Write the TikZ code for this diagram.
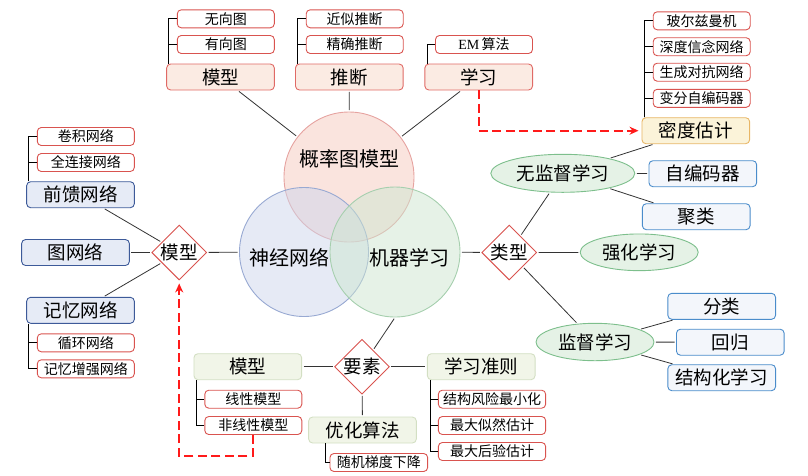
\documentclass[tikz,border=0pt]{standalone}
\usepackage{fontspec}
\usetikzlibrary{shapes.geometric,arrows.meta}
\newfontfamily\cjk{Noto Sans CJK SC}
\newfontfamily\lat{Liberation Serif}
\definecolor{leafred}{HTML}{D9534F}
\definecolor{pinkfill}{HTML}{FBEBE3}
\definecolor{pinkdraw}{HTML}{E06A66}
\definecolor{nnfill}{HTML}{E6EBF6}
\definecolor{nndraw}{HTML}{3D5A99}
\definecolor{mlfill}{HTML}{F3F6FB}
\definecolor{mldraw}{HTML}{4A8CCB}
\definecolor{denfill}{HTML}{FBF3D9}
\definecolor{dendraw}{HTML}{E8B666}
\definecolor{elfill}{HTML}{F1F5E8}
\definecolor{eldraw}{HTML}{D3DFC3}
\definecolor{ellfill}{HTML}{E5F2E6}
\definecolor{elldraw}{HTML}{7DBF8C}
\definecolor{cred}{HTML}{F5C9BE}
\definecolor{credd}{HTML}{E6A3A0}
\definecolor{cblue}{HTML}{CDD5EC}
\definecolor{cblued}{HTML}{98A9D2}
\definecolor{cgreen}{HTML}{CDE6D0}
\definecolor{cgreend}{HTML}{A6CFAE}
\definecolor{dashred}{HTML}{FF1A1A}
\definecolor{conn}{HTML}{333333}
\tikzset{
  smallfont/.style={font=\cjk\fontsize{14}{16}\selectfont},
  bigfont/.style={font=\cjk\fontsize{18.5}{20}\selectfont},
  leaf/.style={smallfont, draw=leafred, fill=white, rounded corners=4pt, line width=0.9pt,
    minimum width=97pt, minimum height=18pt, inner sep=0pt},
  bigbox/.style={bigfont, rounded corners=4pt, line width=0.9pt,
    minimum width=107.7pt, minimum height=26pt, inner sep=0pt},
  pgmbox/.style={bigbox, fill=pinkfill, draw=pinkdraw},
  nnbox/.style={bigbox, fill=nnfill, draw=nndraw},
  mlbox/.style={bigbox, fill=mlfill, draw=mldraw},
  denbox/.style={bigbox, fill=denfill, draw=dendraw},
  elbox/.style={bigbox, fill=elfill, draw=eldraw},
  oval/.style={ellipse, bigfont, fill=ellfill, draw=elldraw, line width=0.9pt, inner sep=0pt},
  dia/.style={diamond, bigfont, draw=leafred, fill=white, line width=0.9pt,
    minimum width=55pt, minimum height=55pt, inner sep=0pt},
  venn/.style={circle, minimum size=130pt, inner sep=0pt, line width=0.9pt, fill opacity=0.5},
  vennlabel/.style={font=\cjk\fontsize{20}{22}\selectfont, inner sep=0pt},
  link/.style={draw=conn, line width=0.8pt, shorten <=1.5pt, shorten >=1.5pt},
  brace/.style={draw=black, line width=0.8pt},
  dasharrow/.style={draw=dashred, line width=2.2pt, dash pattern=on 9pt off 4.5pt,
    -{Stealth[length=9pt,width=8pt]}, shorten >=3pt}
}
\begin{document}
\begin{tikzpicture}[x=1pt,y=-1pt]
\useasboundingbox (0,0) rectangle (808,475);
% Venn circles
\node[venn, fill=cred, draw=credd, draw opacity=1] (pgm) at (349,177) {};
\node[venn, fill=cblue, draw=cblued, draw opacity=1, minimum size=129pt] (nn) at (304,252) {};
\node[venn, fill=cgreen, draw=cgreend, draw opacity=1] (ml) at (395,252) {};
\node[vennlabel] (pgmlab) at (349,159) {概率图模型};
\node[vennlabel] (nnlab) at (289,258) {神经网络};
\node[vennlabel] (mllab) at (409.5,258) {机器学习};

% Top
\node[pgmbox] (tmodel) at (220.5,77) {模型};
\node[pgmbox] (tinfer) at (349.3,77) {推断};
\node[pgmbox] (tlearn) at (478.7,77) {学习};
\node[leaf] (wuxiang) at (225.8,18.8) {无向图};
\node[leaf] (youxiang) at (225.8,44.5) {有向图};
\node[leaf] (jinsi) at (354.7,18.8) {近似推断};
\node[leaf] (jingque) at (354.7,44.5) {精确推断};
\node[leaf] (em) at (484,44.5) {{\lat EM}\,算法};

% Right
\node[denbox] (midu) at (695.8,130.7) {密度估计};
\node[leaf] (boer) at (701.7,20.8) {玻尔兹曼机};
\node[leaf] (shendu) at (701.7,46.7) {深度信念网络};
\node[leaf] (shengcheng) at (701.7,72.2) {生成对抗网络};
\node[leaf] (bianfen) at (701.7,98.3) {变分自编码器};
\node[mlbox] (zibian) at (702.8,173.7) {自编码器};
\node[mlbox] (julei) at (696.2,216.7) {聚类};
\node[oval, minimum width=144pt, minimum height=38pt] (wujiandu) at (562.8,173.3) {无监督学习};
\node[dia] (leixing) at (509.2,252.5) {\makebox[20pt]{类型}};
\node[oval, minimum width=118pt, minimum height=36.7pt] (qianghua) at (639.2,252.3) {强化学习};
\node[oval, minimum width=118pt, minimum height=37.4pt] (jiandu) at (595,342) {监督学习};
\node[mlbox] (fenlei) at (721.7,306.3) {分类};
\node[mlbox] (huigui) at (730.3,342.2) {回归};
\node[mlbox] (jiegou) at (721.7,377.7) {结构化学习};

% Left
\node[dia] (moxing) at (179.2,252.5) {\makebox[20pt]{模型}};
\node[nnbox] (qiankui) at (80.5,194.7) {前馈网络};
\node[nnbox] (tuwang) at (75.5,252.5) {图网络};
\node[nnbox] (jiyi) at (80.5,310.3) {记忆网络};
\node[leaf] (juanji) at (85.8,136.5) {卷积网络};
\node[leaf] (quanlian) at (85.8,162.5) {全连接网络};
\node[leaf] (xunhuan) at (85.8,342.8) {循环网络};
\node[leaf] (jiyizq) at (85.8,368.8) {记忆增强网络};

% Bottom
\node[dia] (yaosu) at (362,366.7) {\makebox[20pt]{要素}};
\node[elbox] (emodel) at (247.8,366.7) {模型};
\node[elbox] (ecrit) at (481.2,366.7) {学习准则};
\node[elbox] (eopt) at (362.5,430) {优化算法};
\node[leaf] (xianxing) at (253.3,399.2) {线性模型};
\node[leaf] (feixian) at (253.3,425.5) {非线性模型};
\node[leaf, minimum width=97.7pt] (suiji) at (378.8,462.5) {随机梯度下降};
\node[leaf, minimum width=107.3pt] (jgfx) at (492,399.2) {结构风险最小化};
\node[leaf, minimum width=107.3pt] (zdsr) at (492,425.5) {最大似然估计};
\node[leaf, minimum width=107.3pt] (zdhy) at (492,451.5) {最大后验估计};

% Connectors
\draw[link] (tmodel) -- (pgm);
\draw[link] (tinfer) -- (pgm);
\draw[link] (tlearn) -- (pgm);
\draw[link] (moxing) -- (nn);
\draw[link] (qiankui) -- (moxing);
\draw[link] (tuwang) -- (moxing);
\draw[link] (jiyi) -- (moxing);
\draw[link] (ml) -- (leixing);
\draw[link] (leixing) -- (wujiandu);
\draw[link] (leixing) -- (qianghua);
\draw[link] (leixing) -- (jiandu);
\draw[link] (wujiandu) -- (midu);
\draw[link] (wujiandu) -- (zibian);
\draw[link] (wujiandu) -- (julei);
\draw[link] (jiandu) -- (fenlei);
\draw[link] (jiandu) -- (huigui);
\draw[link] (jiandu) -- (jiegou);
\draw[link] (yaosu) -- (ml.south);
\draw[link] (emodel) -- (yaosu);
\draw[link] (yaosu) -- (ecrit);
\draw[link] (yaosu) -- (eopt);

% Brackets
\draw[brace] ([xshift=2.6pt]tmodel.north west) |- (wuxiang.west);
\draw[brace] ([xshift=2.6pt]tmodel.north west) |- (youxiang.west);
\draw[brace] ([xshift=2.6pt]tinfer.north west) |- (jinsi.west);
\draw[brace] ([xshift=2.6pt]tinfer.north west) |- (jingque.west);
\draw[brace] ([xshift=3.3pt]tlearn.north west) |- (em.west);
\draw[brace] ([xshift=2.6pt]midu.north west) |- (boer.west);
\draw[brace] ([xshift=2.6pt]midu.north west) |- (shendu.west);
\draw[brace] ([xshift=2.6pt]midu.north west) |- (shengcheng.west);
\draw[brace] ([xshift=2.6pt]midu.north west) |- (bianfen.west);
\draw[brace] ([xshift=2.6pt]qiankui.north west) |- (juanji.west);
\draw[brace] ([xshift=2.6pt]qiankui.north west) |- (quanlian.west);
\draw[brace] ([xshift=2.6pt]jiyi.south west) |- (xunhuan.west);
\draw[brace] ([xshift=2.6pt]jiyi.south west) |- (jiyizq.west);
\draw[brace] ([xshift=3.3pt]emodel.south west) |- (xianxing.west);
\draw[brace] ([xshift=3.3pt]emodel.south west) |- (feixian.west);
\draw[brace] ([xshift=16.7pt]eopt.south west) |- (suiji.west);
\draw[brace] ([xshift=3.3pt]ecrit.south west) |- (jgfx.west);
\draw[brace] ([xshift=3.3pt]ecrit.south west) |- (zdsr.west);
\draw[brace] ([xshift=3.3pt]ecrit.south west) |- (zdhy.west);

% Dashed arrows
\draw[dasharrow] (tlearn.south) |- (midu.west);
\coordinate (turn) at ([yshift=-21pt]feixian.south);
\draw[dasharrow] (feixian.south) -- (turn) -| (moxing.south);
\end{tikzpicture}
\end{document}
